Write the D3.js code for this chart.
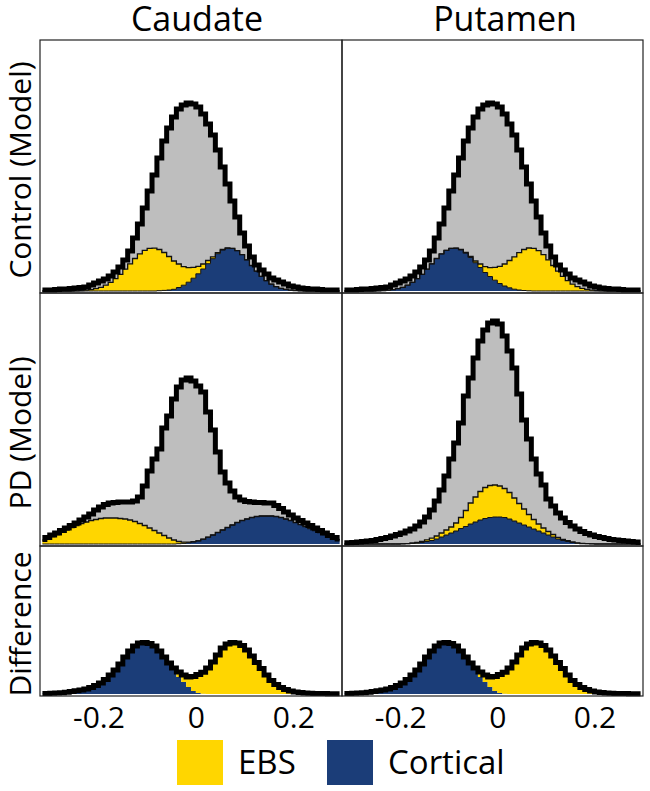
<!DOCTYPE html>
<html>
<head>
<meta charset="utf-8">
<script src="https://cdn.jsdelivr.net/npm/d3@7"></script>
<style>
  body { margin: 0; background: #fff; }
  text { font-family: "Open Sans", sans-serif; fill: #000; }
</style>
</head>
<body>
<svg id="chart" width="650" height="791"></svg>
<script>
// column / row labels
var regions = ["Caudate", "Putamen"];
var rowLabels = ["Control (Model)", "PD (Model)", "Difference"];
var xTicks = [-0.2, 0, 0.2];
var legendKeys = ["EBS", "Cortical"];

// histogram bins: centres from -0.315 to 0.295, width 0.01 (62 bins)
var xDomain = [-0.32, 0.30];
var binStart = -0.315, binWidth = 0.01;

// heights in arbitrary units
var controlCaudateTotal = [1, 1, 1, 1.5, 2, 2, 2.5, 3, 3.5, 4,
    6, 8, 10, 12, 15, 19, 24, 31, 40, 53,
    67, 83, 100, 116, 133, 150, 163, 174, 182, 186,
    188, 187, 184, 177, 167, 156, 141, 124, 107, 90,
    74, 58, 45, 34, 26, 21, 17, 13, 11, 9,
    7, 5, 4, 3, 2.5, 2, 2, 1.5, 1, 1,
    1, 1];
var controlCaudateEBS = [0, 0, 0, 0, 0, 0, 0, 0.2, 0.4, 0.8,
    1.4, 2.3, 3.7, 5.8, 8.7, 12.3, 16.7, 21.8, 27.2, 32.5,
    37.1, 40.7, 42.7, 42.9, 41.2, 37.9, 33.5, 28.3, 23.5, 18.5,
    14.5, 10.8, 7.5, 5, 3.2, 1.8, 1, 0.5, 0.2, 0,
    0, 0, 0, 0, 0, 0, 0, 0, 0, 0,
    0, 0, 0, 0, 0, 0, 0, 0, 0, 0,
    0, 0];
var controlCaudateCortical = [0, 0, 0, 0, 0, 0, 0, 0, 0, 0,
    0, 0, 0, 0, 0, 0, 0, 0, 0, 0,
    0, 0, 0, 0, 0.3, 0.6, 1.0, 1.7, 3.5, 5.8,
    8.8, 12.8, 17.2, 22, 27.3, 32.3, 37.3, 41.0, 42.8, 42.6,
    40.4, 36.4, 31.2, 25.5, 19.8, 14.7, 10.3, 6.9, 4.4, 2.7,
    1.6, 0.9, 0.5, 0.2, 0, 0, 0, 0, 0, 0,
    0, 0];

// control putamen: same total, components mirrored (cortical left, EBS right)
var controlPutamenTotal = controlCaudateTotal;
var controlPutamenEBS = controlCaudateCortical;
var controlPutamenCortical = controlCaudateEBS;

var pdCaudateTotal = [4.5, 6.5, 9, 11, 13.5, 16, 18.5, 21, 24, 27,
    30, 34, 37, 39.5, 41, 41.5, 42, 42, 42, 43,
    47, 58, 73, 85, 95, 116, 128, 145, 157, 164,
    166, 163, 158, 152, 132, 114, 92, 72, 61, 53,
    47, 44, 42.5, 42, 41.5, 41.5, 41, 41, 38.5, 35.5,
    32, 29, 26, 23.5, 21, 18.5, 16, 13.5, 11, 8.5,
    6.5, 5];
var pdCaudateEBS = [4, 5.5, 7.5, 9.5, 12, 14, 16.5, 18.5, 20.5, 22,
    23.5, 24.5, 25.5, 26, 26, 26, 25.5, 25, 24, 22.5,
    20.5, 18.5, 16, 13.5, 11, 8.5, 6, 4, 2.2, 1.2,
    0.6, 0.3, 0, 0, 0, 0, 0, 0, 0, 0,
    0, 0, 0, 0, 0, 0, 0, 0, 0, 0,
    0, 0, 0, 0, 0, 0, 0, 0, 0, 0,
    0, 0];
var pdCaudateCortical = [0, 0, 0, 0, 0, 0, 0, 0, 0, 0,
    0, 0, 0, 0, 0, 0, 0, 0, 0, 0,
    0, 0, 0, 0, 0, 0, 0, 0, 0.3, 0.6,
    1.2, 2, 3.2, 4.8, 6.8, 9, 11.5, 14, 16.5, 19,
    21.5, 23.5, 25, 26.5, 27.5, 28, 28, 28, 27.5, 26.5,
    25, 23.5, 21.5, 19.5, 17.5, 15.5, 13.5, 11.5, 9.5, 7.8,
    6.2, 4.5];

var pdPutamenTotal = [1, 1.2, 1.5, 2, 2.5, 3, 3.5, 4.5, 5.5, 6.5,
    8, 9.5, 11, 13, 15, 18, 22, 27, 34, 43,
    54, 68, 85, 101, 121, 148, 166, 186, 203, 214,
    221, 223, 220, 208, 193, 176, 150, 124, 105, 85,
    70, 59, 45, 38, 31, 26, 21.5, 18, 15, 12.5,
    10.5, 9, 7.5, 6.5, 5.5, 4.5, 4, 3.5, 3, 2.5,
    2, 1.5];
var pdPutamenEBS = [0, 0, 0, 0, 0, 0, 0, 0, 0, 0,
    0, 0, 0, 0, 0.5, 0.8, 1.2, 1.7, 2.3, 3,
    4, 5, 6, 8, 11, 16, 21, 25, 28.5, 31,
    32, 32, 31, 29, 26.5, 23, 19.5, 16, 12.5, 9.5,
    7, 5, 3.5, 2.5, 1.7, 1.2, 0.8, 0.5, 0.3, 0,
    0, 0, 0, 0, 0, 0, 0, 0, 0, 0,
    0, 0];
var pdPutamenCortical = [0, 0, 0, 0, 0, 0, 0, 0, 0, 0,
    0, 0, 0.2, 0.3, 0.5, 0.8, 1.5, 2.5, 3.5, 5,
    7, 9, 11, 13, 15.5, 17.5, 20, 22, 24, 25.5,
    26.5, 27, 27, 26.5, 25, 23, 21, 19, 17, 15,
    13, 11, 9, 7, 5, 3.5, 2.5, 1.5, 0.8, 0.5,
    0.3, 0.2, 0, 0, 0, 0, 0, 0, 0, 0,
    0, 0];

var diffCaudateEBS = [0, 0, 0, 0, 0, 0, 0, 0, 0, 0,
    0, 0, 0, 0, 0, 0, 0, 0, 0, 0,
    0, 0, 0, 0, 0, 0, 0.5, 2, 5, 7,
    10, 14.5, 18.5, 21.5, 26, 32, 39, 46, 50, 51.5,
    51, 48.5, 44, 38, 31.5, 25.5, 19, 13.5, 9.5, 6.5,
    4.5, 3, 2, 1.5, 1, 0.8, 0.6, 0.5, 0.4, 0.3,
    0.3, 0.3];
var diffCaudateCortical = [0.5, 0.5, 0.8, 1, 1.3, 1.8, 2.4, 3.2, 4, 5,
    6.5, 8.5, 11, 14.5, 19, 24, 30, 37, 43, 48,
    51, 51.5, 50.5, 48, 43, 37, 30.5, 24, 17, 12,
    7, 3, 1, 0.3, 0, 0, 0, 0, 0, 0,
    0, 0, 0, 0, 0, 0, 0, 0, 0, 0,
    0, 0, 0, 0, 0, 0, 0, 0, 0, 0,
    0, 0];
// putamen difference reads the same as caudate
var diffPutamenEBS = diffCaudateEBS;
var diffPutamenCortical = diffCaudateCortical;

var ebsColor = "#ffd600",
    corticalColor = "#1b3d78",
    totalColor = "#bebebe";

var svg = d3.select("#chart");

var colX = [40, 342],
    colW = [302, 301],
    rowY = [40, 293, 546],
    rowH = [253, 253, 150];

var panels = [
    {row: 0, col: 0, total: controlCaudateTotal, ebs: controlCaudateEBS, cortical: controlCaudateCortical},
    {row: 0, col: 1, total: controlPutamenTotal, ebs: controlPutamenEBS, cortical: controlPutamenCortical},
    {row: 1, col: 0, total: pdCaudateTotal, ebs: pdCaudateEBS, cortical: pdCaudateCortical},
    {row: 1, col: 1, total: pdPutamenTotal, ebs: pdPutamenEBS, cortical: pdPutamenCortical},
    {row: 2, col: 0, total: null, ebs: diffCaudateEBS, cortical: diffCaudateCortical},
    {row: 2, col: 1, total: null, ebs: diffPutamenEBS, cortical: diffPutamenCortical}
];

function xScale(col) {
    return d3.scaleLinear().domain(xDomain).range([colX[col], colX[col] + colW[col]]);
}

panels.forEach(function(p) {
    var x = xScale(p.col),
        base = rowY[p.row] + rowH[p.row] - 2,
        y = d3.scaleLinear().domain([0, rowH[p.row] - 2]).range([base, rowY[p.row]]);

    var data = p.ebs.map(function(e, i) {
        var c = p.cortical[i];
        return {v: binStart + i * binWidth, cort: c, stack: c + e, total: p.total ? p.total[i] : c + e};
    });

    var g = svg.append("g");

    function area(lo, hi) {
        return d3.area().curve(d3.curveStep)
            .x(function(d) { return x(d.v); })
            .y0(lo).y1(hi);
    }
    function line(key) {
        return d3.line().curve(d3.curveStep)
            .x(function(d) { return x(d.v); })
            .y(function(d) { return y(d[key]); });
    }

    if (p.total) {
        g.append("path").datum(data)
            .attr("fill", totalColor)
            .attr("d", area(y(0), function(d) { return y(d.total); }));
    }

    g.append("path").datum(data)
        .attr("fill", corticalColor)
        .attr("d", area(y(0), function(d) { return y(d.cort); }));

    g.append("path").datum(data)
        .attr("fill", ebsColor)
        .attr("d", area(function(d) { return y(d.cort); }, function(d) { return y(d.stack); }));

    if (p.total) {
        g.append("path").datum(data)
            .attr("fill", "none").attr("stroke", "#111").attr("stroke-width", 1)
            .attr("d", line("cort"));
        g.append("path").datum(data)
            .attr("fill", "none").attr("stroke", "#111").attr("stroke-width", 1.3)
            .attr("d", line("stack"));
    }

    g.append("path").datum(data)
        .attr("fill", "none").attr("stroke", "#000").attr("stroke-width", 5)
        .attr("stroke-linejoin", "miter")
        .attr("d", line("total"));
});

// panel frames
panels.forEach(function(p) {
    svg.append("rect")
        .attr("x", colX[p.col]).attr("y", rowY[p.row])
        .attr("width", colW[p.col]).attr("height", rowH[p.row])
        .attr("fill", "none").attr("stroke", "#222").attr("stroke-width", 1.2);
});

// column titles
var titleX = [197, 505];
svg.selectAll(".title")
    .data(regions)
    .enter().append("text")
    .attr("class", "title")
    .attr("x", function(d, i) { return titleX[i]; })
    .attr("y", 31)
    .attr("text-anchor", "middle")
    .style("font-size", "34px")
    .text(function(d) { return d; });

// row labels
var rowLabelY = [170, 433, 624];
svg.selectAll(".rowlabel")
    .data(rowLabels)
    .enter().append("text")
    .attr("class", "rowlabel")
    .attr("transform", function(d, i) { return "translate(31," + rowLabelY[i] + ") rotate(-90)"; })
    .attr("text-anchor", "middle")
    .style("font-size", "30px")
    .text(function(d) { return d; });

// x axes
[0, 1].forEach(function(col) {
    var ax = svg.append("g")
        .attr("transform", "translate(0," + (rowY[2] + rowH[2]) + ")")
        .call(d3.axisBottom(xScale(col)).tickValues(xTicks).tickSize(0).tickPadding(11)
            .tickFormat(function(d) { return String(d); }));
    ax.select(".domain").remove();
    ax.selectAll("text")
        .style("font-size", "30px")
        .style("font-family", "'Open Sans', sans-serif")
        .attr("fill", "#000");
});

// legend
var legendX = [177, 327],
    legendColors = [ebsColor, corticalColor];
var lg = svg.selectAll(".legend")
    .data(legendKeys)
    .enter().append("g")
    .attr("class", "legend")
    .attr("transform", function(d, i) { return "translate(" + legendX[i] + ",740)"; });
lg.append("rect")
    .attr("width", 46).attr("height", 45)
    .attr("fill", function(d, i) { return legendColors[i]; });
lg.append("text")
    .attr("x", 61).attr("y", 34)
    .style("font-size", "33px")
    .text(function(d) { return d; });
</script>
</body>
</html>
